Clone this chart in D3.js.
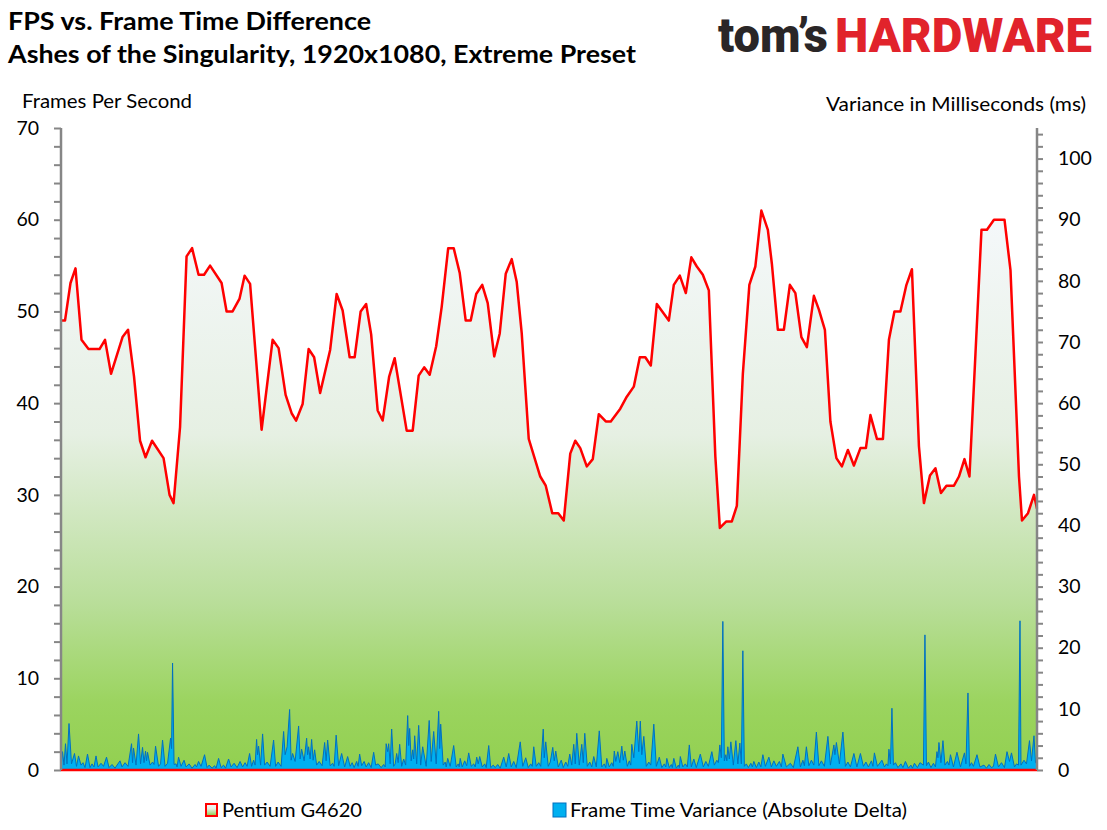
<!DOCTYPE html>
<html>
<head>
<meta charset="utf-8">
<script src="https://cdn.jsdelivr.net/npm/d3@7"></script>
<style>
  body { margin: 0; background: #fff; }
  svg text { font-family: Lato, "Open Sans", sans-serif; fill: #000; }
</style>
</head>
<body>
<div id="chart"></div>
<script>
// [position along the run, FPS]
const fpsSamples = [
  [0, 49.0], [0.8, 49.0], [1.9, 53.1], [2.9, 54.7], [4.1, 46.9], [5.5, 45.9], [7.7, 45.9], [8.8, 46.9],
  [10.0, 43.2], [12.3, 47.2], [13.4, 48.0], [14.6, 42.9], [15.8, 35.9], [16.9, 34.1], [18.2, 35.9], [20.5, 34.0],
  [21.7, 30.0], [22.5, 29.1], [23.8, 37.4], [25.1, 56.0], [26.2, 56.9], [27.5, 54.0], [28.6, 54.0], [29.8, 55.0],
  [32.1, 53.1], [33.1, 50.0], [34.3, 50.0], [35.7, 51.4], [36.7, 53.9], [37.8, 53.0], [40.1, 37.1], [42.3, 46.9],
  [43.5, 46.0], [44.9, 40.9], [46.1, 38.9], [47.0, 38.1], [48.3, 39.9], [49.5, 45.9], [50.6, 45.0], [51.8, 41.1],
  [53.8, 45.8], [55.1, 51.9], [56.3, 50.1], [57.7, 45.0], [58.7, 45.0], [59.9, 50.0], [61.0, 50.8], [62.0, 47.5],
  [63.3, 39.2], [64.3, 38.1], [65.6, 42.9], [66.7, 44.9], [69.1, 37.0], [70.3, 37.0], [71.5, 43.0], [72.6, 43.9],
  [73.7, 43.1], [75.0, 46.2], [76.1, 50.5], [77.4, 56.9], [78.5, 56.9], [79.7, 54.2], [80.9, 49.0], [81.9, 49.0],
  [83.0, 51.9], [84.2, 52.9], [85.3, 50.9], [86.6, 45.1], [87.7, 47.6], [88.9, 54.1], [90.1, 55.7], [91.1, 53.2],
  [92.1, 47.6], [93.5, 36.1], [95.8, 32.0], [96.9, 31.0], [98.2, 28.0], [99.4, 28.0], [100.5, 27.2], [101.8, 34.5],
  [102.8, 35.9], [103.8, 35.1], [105.1, 33.1], [106.3, 33.9], [107.5, 38.8], [108.9, 38.0], [109.9, 38.0], [111.8, 39.4],
  [113.1, 40.7], [114.5, 41.8], [115.7, 45.0], [116.8, 45.0], [117.9, 44.1], [119.1, 50.8], [121.5, 49.0], [122.5, 52.9],
  [123.7, 53.9], [124.9, 52.0], [126.0, 55.9], [127.1, 54.9], [128.3, 54.0], [129.5, 52.3], [130.8, 34.2], [131.7, 26.4],
  [133.0, 27.1], [134.1, 27.1], [135.1, 28.8], [136.3, 43.2], [137.6, 52.9], [138.8, 54.9], [140.0, 61.0], [141.3, 58.9],
  [142.1, 55.2], [143.3, 48.0], [144.5, 48.0], [145.7, 52.9], [146.8, 52.0], [148.0, 47.2], [149.1, 46.1], [150.5, 51.7],
  [151.5, 50.2], [152.7, 48.0], [153.8, 38.0], [155.0, 34.0], [156.1, 33.1], [157.3, 34.9], [158.5, 33.2], [159.8, 35.1],
  [160.9, 35.1], [161.8, 38.7], [163.1, 36.1], [164.3, 36.1], [165.5, 46.9], [166.6, 50.0], [167.8, 50.0], [169.0, 52.9],
  [170.1, 54.6], [171.5, 35.3], [172.5, 29.1], [173.7, 32.1], [174.8, 32.9], [175.9, 30.2], [177.0, 31.0], [178.5, 31.0],
  [179.5, 32.0], [180.6, 33.9], [181.6, 32.0], [182.8, 45.4], [184.0, 58.9], [185.1, 58.9], [186.5, 60.0], [188.6, 60.0],
  [189.8, 54.5], [191.5, 32.0], [192.1, 27.2], [193.3, 28.0], [194.5, 30.0], [195.1, 28.5]
];

// [position along the run, frame time variance in ms]
const varianceSamples = [
  [0, 0.5], [0.3, 3.0], [0.6, 0.8], [0.9, 4.3], [1.2, 1.0], [1.6, 7.6], [2.1, 1.0], [2.7, 2.7], [3.1, 0.6], [3.5, 2.3],
  [4.0, 0.8], [4.4, 1.2], [4.8, 0.4], [5.3, 2.6], [5.8, 0.4], [6.2, 1.0], [6.6, 0.5], [7.0, 2.3], [7.4, 0.5], [8.0, 1.1],
  [8.5, 0.6], [9.1, 2.1], [9.6, 0.4], [10.2, 0.9], [10.8, 0.3], [11.2, 0.8], [11.8, 1.5], [12.2, 0.5], [12.8, 1.2], [13.4, 0.6],
  [14.1, 4.3], [14.3, 1.2], [14.5, 3.6], [15.0, 0.8], [15.5, 5.9], [15.9, 1.0], [16.3, 3.7], [16.6, 1.2], [16.9, 3.1], [17.1, 1.5],
  [17.3, 2.9], [17.8, 0.8], [18.3, 1.3], [18.6, 0.9], [18.9, 3.9], [19.5, 0.6], [19.9, 1.0], [20.3, 4.9], [20.8, 0.6], [21.3, 1.1],
  [21.9, 5.2], [22.1, 3.5], [22.3, 17.5], [22.6, 0.9], [23.0, 1.0], [23.2, 0.5], [23.5, 2.1], [24.0, 0.6], [24.6, 1.6], [25.0, 0.5],
  [25.6, 1.0], [26.2, 0.3], [26.8, 0.9], [27.1, 0.5], [27.5, 1.4], [28.0, 0.6], [28.7, 2.5], [29.2, 0.4], [29.6, 0.8], [30.2, 0.3],
  [30.7, 0.7], [31.0, 0.3], [31.5, 1.9], [32.0, 0.4], [32.5, 0.8], [32.9, 0.3], [33.5, 1.8], [34.0, 0.5], [34.6, 1.1], [35.2, 0.4],
  [35.8, 1.4], [36.3, 0.5], [36.8, 1.2], [37.2, 0.6], [37.7, 2.7], [38.1, 0.6], [38.5, 1.6], [38.8, 0.8], [39.1, 5.0], [39.3, 2.5],
  [39.5, 3.9], [39.9, 0.8], [40.3, 5.9], [40.7, 0.8], [41.2, 1.3], [41.8, 0.6], [42.5, 4.9], [42.9, 0.6], [43.4, 1.3], [44.0, 0.6],
  [44.5, 6.3], [44.8, 2.5], [45.2, 3.8], [45.7, 9.9], [46.0, 1.6], [46.3, 2.7], [46.8, 1.4], [47.5, 7.2], [47.8, 1.8], [48.1, 3.4],
  [48.6, 1.5], [49.1, 5.2], [49.3, 2.5], [49.5, 3.8], [49.8, 1.8], [50.1, 5.0], [50.4, 1.6], [50.7, 3.3], [51.1, 0.8], [51.6, 1.4],
  [52.2, 0.7], [52.7, 4.5], [53.0, 1.5], [53.3, 4.9], [53.8, 0.7], [54.3, 1.1], [54.6, 0.6], [55.0, 5.7], [55.5, 0.7], [56.1, 2.7],
  [56.7, 0.5], [57.3, 2.2], [57.8, 0.6], [58.2, 1.2], [58.6, 0.4], [59.1, 1.4], [59.4, 0.6], [59.7, 2.6], [60.1, 0.7], [60.6, 1.4],
  [61.0, 0.5], [61.5, 1.2], [62.0, 0.4], [62.5, 2.9], [62.9, 0.8], [63.4, 1.0], [64.0, 0.4], [64.5, 0.9], [64.8, 0.5], [65.0, 4.3],
  [65.3, 3.0], [65.5, 4.3], [65.8, 1.0], [66.1, 6.7], [66.5, 0.6], [66.8, 1.0], [67.1, 2.7], [67.4, 1.2], [67.7, 4.2], [68.1, 0.6],
  [68.5, 1.8], [68.9, 0.8], [69.3, 8.9], [69.5, 4.0], [69.7, 6.8], [70.0, 1.5], [70.3, 3.3], [70.5, 1.8], [70.7, 5.6], [71.1, 1.0],
  [71.5, 7.3], [71.9, 0.8], [72.3, 3.8], [73.0, 0.6], [73.6, 8.1], [74.0, 1.4], [74.5, 6.3], [75.0, 1.0], [75.5, 9.6], [75.7, 3.5],
  [75.9, 7.5], [76.4, 0.8], [76.8, 1.3], [77.0, 0.5], [77.3, 1.9], [77.8, 0.6], [78.5, 4.0], [79.0, 0.5], [79.4, 1.0], [79.6, 0.5],
  [79.8, 1.9], [80.2, 0.5], [80.7, 1.5], [81.1, 0.7], [81.5, 2.8], [82.0, 0.6], [82.5, 1.0], [82.8, 0.5], [83.1, 2.1], [83.4, 1.0],
  [83.7, 2.2], [84.2, 0.5], [84.7, 1.0], [85.0, 0.4], [85.5, 4.0], [85.9, 0.4], [86.4, 0.8], [86.8, 0.4], [87.3, 0.9], [87.8, 0.3],
  [88.5, 2.1], [89.0, 0.5], [89.5, 2.7], [90.0, 0.5], [90.5, 1.4], [91.0, 0.4], [91.8, 4.6], [92.3, 0.6], [92.9, 2.0], [93.4, 0.4],
  [93.9, 1.0], [94.2, 0.6], [94.5, 3.8], [95.0, 0.6], [95.5, 1.2], [95.9, 0.6], [96.4, 6.7], [96.6, 2.0], [96.9, 4.6], [97.4, 0.6],
  [97.8, 1.3], [98.3, 3.7], [98.6, 1.5], [98.9, 3.1], [99.4, 0.5], [100.0, 1.6], [100.4, 0.4], [100.9, 1.3], [101.3, 0.6], [101.7, 2.6],
  [102.1, 0.8], [102.5, 4.2], [102.8, 1.0], [103.1, 6.0], [103.6, 0.8], [104.1, 4.2], [104.4, 1.2], [104.7, 6.0], [105.2, 0.6], [105.7, 1.3],
  [106.1, 0.5], [106.5, 2.2], [107.0, 0.5], [107.6, 6.4], [108.1, 0.5], [108.6, 1.0], [108.9, 0.4], [109.1, 1.9], [109.6, 0.5], [110.1, 1.2],
  [110.4, 0.6], [110.6, 3.1], [110.9, 1.4], [111.3, 3.0], [111.7, 1.2], [112.1, 3.9], [112.4, 1.6], [112.7, 3.1], [113.2, 0.6], [113.6, 1.5],
  [113.9, 0.8], [114.1, 4.2], [114.5, 2.0], [115.1, 8.0], [115.5, 3.0], [115.8, 8.0], [116.1, 2.5], [116.5, 5.5], [117.0, 0.6], [117.5, 1.3],
  [117.9, 0.8], [118.5, 7.5], [119.0, 0.6], [119.6, 2.1], [120.1, 0.4], [120.6, 1.0], [120.9, 0.5], [121.1, 1.9], [121.6, 0.4], [122.0, 0.9],
  [122.2, 0.4], [122.5, 1.9], [123.0, 0.3], [123.4, 0.8], [123.6, 0.4], [123.8, 2.2], [124.3, 0.5], [124.8, 1.0], [125.2, 0.5], [125.6, 4.1],
  [126.0, 0.5], [126.5, 1.8], [127.0, 0.4], [127.8, 2.6], [128.4, 0.5], [128.9, 1.4], [129.4, 0.6], [130.1, 3.0], [130.6, 0.8], [131.1, 1.6],
  [131.4, 1.2], [131.7, 4.1], [132.0, 2.0], [132.3, 24.3], [132.6, 1.5], [132.9, 2.5], [133.1, 1.5], [133.3, 3.8], [133.6, 1.8], [133.9, 4.6],
  [134.4, 0.8], [134.9, 4.8], [135.3, 1.0], [135.7, 4.4], [136.0, 1.0], [136.3, 19.5], [136.6, 0.6], [137.0, 1.0], [137.4, 0.4], [137.9, 1.1],
  [138.2, 0.5], [138.5, 1.4], [139.0, 0.4], [139.5, 1.3], [139.9, 0.5], [140.3, 2.5], [140.8, 0.6], [141.5, 2.1], [142.0, 0.5], [142.5, 1.5],
  [143.0, 0.6], [143.6, 1.4], [144.0, 0.5], [144.3, 2.6], [145.0, 0.5], [145.8, 1.1], [146.4, 0.4], [147.3, 3.8], [147.8, 0.5], [148.3, 1.6],
  [148.6, 0.7], [149.0, 3.8], [149.5, 0.7], [150.0, 1.6], [150.5, 0.8], [151.0, 6.2], [151.5, 0.7], [152.0, 1.5], [152.6, 0.6], [153.3, 5.5],
  [153.8, 0.8], [154.5, 4.1], [154.7, 2.5], [155.0, 4.5], [155.6, 1.0], [156.3, 6.2], [156.8, 0.6], [157.3, 1.3], [157.8, 0.5], [158.5, 2.7],
  [159.1, 0.5], [159.8, 2.7], [160.4, 0.6], [160.9, 1.3], [161.4, 0.5], [162.0, 1.5], [162.3, 0.6], [162.6, 2.8], [163.2, 0.6], [164.1, 1.6],
  [164.6, 0.5], [165.0, 1.0], [165.3, 0.7], [165.5, 3.4], [165.8, 1.0], [166.1, 10.1], [166.4, 0.8], [166.8, 1.2], [167.3, 0.4], [167.9, 1.0],
  [168.3, 0.4], [168.8, 1.4], [169.4, 0.3], [169.9, 0.8], [170.2, 0.3], [170.6, 1.1], [171.2, 0.4], [171.7, 1.2], [172.4, 0.8], [172.7, 22.1],
  [173.0, 0.7], [173.4, 1.3], [173.9, 0.4], [174.4, 1.1], [174.8, 0.5], [175.1, 3.0], [175.3, 2.0], [175.5, 4.5], [175.9, 1.2], [176.3, 4.8],
  [176.7, 0.8], [177.2, 1.4], [177.5, 0.8], [177.8, 2.5], [178.4, 0.5], [179.1, 2.9], [179.8, 0.5], [180.6, 2.8], [180.9, 1.0], [181.3, 12.6],
  [181.6, 0.6], [182.0, 1.2], [182.4, 0.6], [183.1, 2.5], [183.7, 0.5], [184.5, 0.8], [185.0, 0.3], [185.5, 0.9], [186.0, 0.4], [186.4, 0.6],
  [186.8, 2.6], [187.4, 0.5], [188.0, 1.2], [188.6, 0.4], [189.1, 3.0], [189.6, 1.4], [190.0, 2.8], [190.6, 0.5], [191.0, 1.0], [191.4, 0.8],
  [191.7, 24.4], [191.9, 0.8], [192.5, 1.6], [193.0, 1.0], [193.6, 4.8], [194.0, 1.5], [194.5, 5.6], [194.8, 1.2], [195.1, 1.1]
];

const fpsTicks = d3.range(0, 71, 2);
const msTicks = d3.range(0, 105, 2);
const seriesNames = ["Pentium G4620", "Frame Time Variance (Absolute Delta)"];

const width = 1107, height = 830;
const svg = d3.select("#chart").append("svg")
    .attr("width", width)
    .attr("height", height);

const x = d3.scaleLinear().domain([0, 195.1]).range([61, 1037]);
const yL = d3.scaleLinear().domain([0, 70]).range([770, 128]);
const yR = d3.scaleLinear().domain([0, 105]).range([770, 128]);

// gradient for the fps area
const defs = svg.append("defs");
const grad = defs.append("linearGradient")
    .attr("id", "fpsGrad")
    .attr("x1", 0).attr("y1", 0).attr("x2", 0).attr("y2", 1);
[[0, "#f5f8fb"], [0.4, "#e6f0e3"], [0.7, "#b9de9a"], [0.88, "#9bd45f"], [1, "#92d050"]]
    .forEach(function (s) {
        grad.append("stop").attr("offset", s[0]).attr("stop-color", s[1]);
    });

svg.append("path")
    .datum(fpsSamples)
    .attr("fill", "url(#fpsGrad)")
    .attr("d", d3.area()
        .x(function (d) { return x(d[0]); })
        .y0(yL(0))
        .y1(function (d) { return yL(d[1]); }));

svg.append("path")
    .datum(varianceSamples)
    .attr("fill", "#00b0f0")
    .attr("stroke", "#0070c0")
    .attr("stroke-width", 1)
    .attr("stroke-linejoin", "round")
    .attr("d", d3.area()
        .x(function (d) { return x(d[0]); })
        .y0(yR(0))
        .y1(function (d) { return yR(d[1]); }));

svg.append("path")
    .datum(fpsSamples)
    .attr("fill", "none")
    .attr("stroke", "#ff0000")
    .attr("stroke-width", 2.5)
    .attr("stroke-linejoin", "round")
    .attr("d", d3.line()
        .x(function (d) { return x(d[0]); })
        .y(function (d) { return yL(d[1]); }));

// bottom edge of the fps area outline
svg.append("line")
    .attr("x1", x(0)).attr("x2", x(195.1))
    .attr("y1", yL(0)).attr("y2", yL(0))
    .attr("stroke", "#ff0000")
    .attr("stroke-width", 2.5);

// axes
const leftAxis = svg.append("g")
    .attr("transform", "translate(" + x(0) + ",0)")
    .call(d3.axisLeft(yL).tickValues(fpsTicks).tickSize(7).tickSizeOuter(0).tickPadding(15)
        .tickFormat(function (d) { return d % 10 === 0 ? d : ""; }));

const rightAxis = svg.append("g")
    .attr("transform", "translate(" + x(195.1) + ",0)")
    .call(d3.axisRight(yR).tickValues(msTicks).tickSize(6).tickSizeOuter(0).tickPadding(15)
        .tickFormat(function (d) { return d % 10 === 0 ? d : ""; }));

[leftAxis, rightAxis].forEach(function (g) {
    g.select(".domain").attr("stroke", "#868686").attr("stroke-width", 2.5);
    g.selectAll(".tick line").attr("stroke", "#868686").attr("stroke-width", 2);
    g.selectAll(".tick text").style("font-size", "19.5px").style("font-family", "Lato, sans-serif").attr("fill", "#000");
});
leftAxis.select(".domain").attr("d", "M0," + yL(70) + "V" + yL(0));
rightAxis.select(".domain").attr("d", "M0," + yR(105) + "V" + yR(0));

// titles
svg.append("text").attr("x", 8).attr("y", 30)
    .style("font-size", "25px").style("font-weight", "bold")
    .attr("textLength", 363).attr("lengthAdjust", "spacingAndGlyphs")
    .text("FPS vs. Frame Time Difference");
svg.append("text").attr("x", 8).attr("y", 63)
    .style("font-size", "25px").style("font-weight", "bold")
    .attr("textLength", 628).attr("lengthAdjust", "spacingAndGlyphs")
    .text("Ashes of the Singularity, 1920x1080, Extreme Preset");

svg.append("text").attr("x", 22).attr("y", 108)
    .style("font-size", "20px")
    .attr("textLength", 170).attr("lengthAdjust", "spacingAndGlyphs")
    .text("Frames Per Second");
svg.append("text").attr("x", 826).attr("y", 111)
    .style("font-size", "20px")
    .attr("textLength", 260).attr("lengthAdjust", "spacingAndGlyphs")
    .text("Variance in Milliseconds (ms)");

// logo
const logoFont = "Roboto, Lato, sans-serif";
svg.append("text").attr("x", 718).attr("y", 52)
    .style("font-family", logoFont).style("font-size", "48px").style("font-weight", "900")
    .style("fill", "#2a2627")
    .attr("textLength", 110).attr("lengthAdjust", "spacingAndGlyphs")
    .text("tom’s");
svg.append("text").attr("x", 835).attr("y", 52)
    .style("font-family", logoFont).style("font-size", "48px").style("font-weight", "900")
    .style("fill", "#e1232b")
    .attr("textLength", 257).attr("lengthAdjust", "spacingAndGlyphs")
    .text("HARDWARE");

// legend
const legend = svg.append("g");
legend.append("rect")
    .attr("x", 206).attr("y", 804).attr("width", 11).attr("height", 12)
    .attr("fill", "url(#fpsGrad)").attr("stroke", "#ff0000").attr("stroke-width", 2);
legend.append("text").attr("x", 222).attr("y", 817)
    .style("font-size", "20px")
    .attr("textLength", 140).attr("lengthAdjust", "spacingAndGlyphs")
    .text(seriesNames[0]);
legend.append("rect")
    .attr("x", 553).attr("y", 803).attr("width", 13).attr("height", 14)
    .attr("fill", "#00b0f0").attr("stroke", "#0070c0").attr("stroke-width", 1);
legend.append("text").attr("x", 570).attr("y", 817)
    .style("font-size", "20px")
    .attr("textLength", 337).attr("lengthAdjust", "spacingAndGlyphs")
    .text(seriesNames[1]);
</script>
</body>
</html>
